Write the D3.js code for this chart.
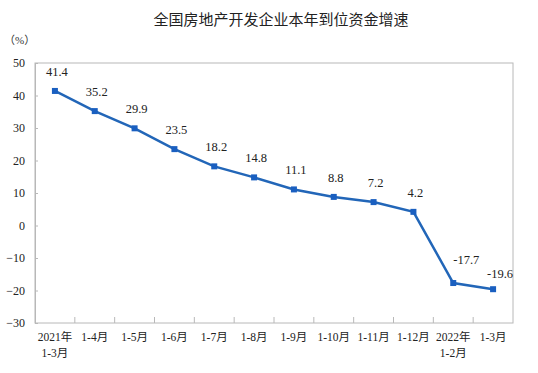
<!DOCTYPE html>
<meta charset="utf-8">
<body style="margin:0;background:white">
  <div id="chart"></div>
</body>
<script src="https://cdn.jsdelivr.net/npm/d3@7"></script>
<script>
// categories (two-line labels split by \n)
var months = ["2021年\n1-3月", "1-4月", "1-5月", "1-6月", "1-7月", "1-8月",
              "1-9月", "1-10月", "1-11月", "1-12月", "2022年\n1-2月", "1-3月"];
var growth = [41.4, 35.2, 29.9, 23.5, 18.2, 14.8, 11.1, 8.8, 7.2, 4.2, -17.7, -19.6];
var yTicks = [50, 40, 30, 20, 10, 0, -10, -20, -30];

var size = { width: 538, height: 373 };
var plot = { left: 35, right: 513, top: 63, bottom: 323 };
var blue = "#2266b8";
var serif = "'Liberation Serif','Times New Roman','Noto Sans CJK SC',serif";

var svg = d3.select("#chart").append("svg")
    .attr("width", size.width).attr("height", size.height);

var x = d3.scaleBand().domain(months).range([plot.left, plot.right]);
var y = d3.scaleLinear().domain([-30, 50]).range([plot.bottom, plot.top]);

// title
svg.append("text")
    .attr("x", 281).attr("y", 25)
    .attr("text-anchor", "middle")
    .style("font-family", "'Noto Sans CJK SC',sans-serif")
    .style("font-size", "15px")
    .style("fill", "#222")
    .text("全国房地产开发企业本年到位资金增速");

svg.append("text")
    .attr("x", 4).attr("y", 44)
    .style("font-family", serif)
    .style("font-size", "11px")
    .style("fill", "#333")
    .text("（%）");

// frame
svg.append("rect")
    .attr("x", plot.left).attr("y", plot.top)
    .attr("width", plot.right - plot.left).attr("height", plot.bottom - plot.top)
    .attr("fill", "none").attr("stroke", "#b8b8b8").attr("stroke-width", 1);

// y axis, ticks inward
var yAxis = svg.append("g")
    .attr("transform", "translate(" + plot.left + ",0)")
    .call(d3.axisLeft(y).tickValues(yTicks).tickSize(-3).tickPadding(10).tickFormat(d3.format("d")));
yAxis.select(".domain").attr("stroke", "#b8b8b8");
yAxis.selectAll(".tick line").attr("stroke", "#b8b8b8");
yAxis.selectAll(".tick text")
    .style("font-family", serif).style("font-size", "12px").style("fill", "#222");

// x axis, ticks on band edges, inward
var edges = months.map(function (m) { return x(m); }).slice(1);
svg.append("g").selectAll("line").data(edges).enter().append("line")
    .attr("x1", function (d) { return d; }).attr("x2", function (d) { return d; })
    .attr("y1", plot.bottom).attr("y2", plot.bottom - 6)
    .attr("stroke", "#b8b8b8");

var xl = svg.append("g").selectAll("text").data(months).enter().append("text")
    .attr("x", function (d) { return x(d) + x.bandwidth() / 2; })
    .attr("y", 341)
    .attr("text-anchor", "middle")
    .style("font-family", serif).style("font-size", "11.5px").style("fill", "#222");
xl.each(function (d) {
    var t = d3.select(this);
    d.split("\n").forEach(function (s, i) {
        t.append("tspan").attr("x", x(d) + x.bandwidth() / 2).attr("dy", i ? 16 : 0).text(s);
    });
});

// line
var pts = months.map(function (m, i) { return { m: m, v: growth[i], i: i }; });
var cx = function (d) { return x(d.m) + x.bandwidth() / 2; };
var line = d3.line()
    .x(cx)
    .y(function (d) { return y(d.v); });

svg.append("path").datum(pts)
    .attr("d", line)
    .attr("fill", "none").attr("stroke", blue).attr("stroke-width", 2.5);

svg.append("g").selectAll("rect").data(pts).enter().append("rect")
    .attr("x", function (d) { return cx(d) - 3; })
    .attr("y", function (d) { return y(d.v) - 3; })
    .attr("width", 6).attr("height", 6)
    .attr("fill", "#1a5fc0");

// label offset [dx, dy]; the two after the steep drop sit right of the line
var offset = function (d) {
    if (d.i === 10) return [13, -19];
    if (d.i === 11) return [7, -11];
    return [2, -15];
};
svg.append("g").selectAll("text").data(pts).enter().append("text")
    .attr("x", function (d) { return cx(d) + offset(d)[0]; })
    .attr("y", function (d) { return y(d.v) + offset(d)[1]; })
    .attr("text-anchor", "middle")
    .style("font-family", serif).style("font-size", "12.5px").style("fill", "#222")
    .text(function (d) { return d.v.toFixed(1); });
</script>
